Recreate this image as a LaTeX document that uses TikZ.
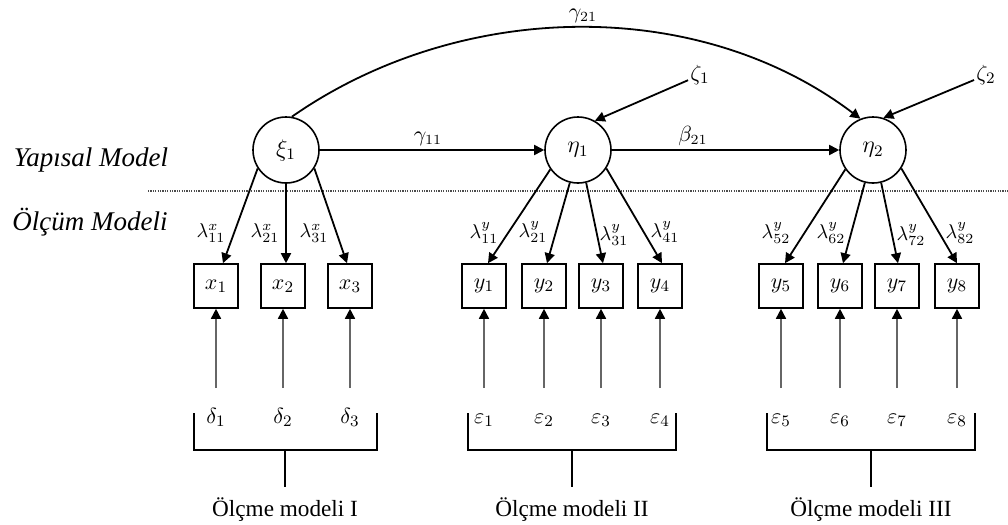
\documentclass[tikz,border=0pt]{standalone}
\usepackage{fontspec}
\setmainfont{Liberation Serif}
\usetikzlibrary{arrows.meta}
\begin{document}
\begin{tikzpicture}[x=0.5pt,y=-0.5pt,
  latent/.style={circle,draw,line width=0.8pt,minimum size=33pt,inner sep=0pt,font=\fontsize{12}{14}\selectfont},
  observed/.style={rectangle,draw,line width=0.8pt,minimum size=22pt,inner sep=0pt,font=\fontsize{11}{13}\selectfont},
  coef/.style={font=\fontsize{10.5}{12}\selectfont,inner sep=1pt},
  loading/.style={font=\fontsize{10}{12}\selectfont,inner sep=0pt},
  errlabel/.style={font=\fontsize{11}{13}\selectfont,inner sep=1pt,text height=7.6pt,text depth=2pt},
  causal/.style={line width=0.9pt,-{Triangle[length=5pt,width=5pt]}},
  errpath/.style={line width=0.8pt,draw=black!60,shorten <=9pt,-{Triangle[length=5pt,width=5pt,color=black]}},
  bracket/.style={line width=0.6pt},
  levelname/.style={font=\fontsize{13.5}{16}\selectfont\itshape},
  groupname/.style={font=\fontsize{11.6}{14}\selectfont},
  divider/.style={line width=0.6pt,draw=black!70,dash pattern=on 0.6pt off 0.6pt}]
\useasboundingbox (0,0) rectangle (1008,525);

% level captions and divider
\node[levelname] (lvlA) at (91,160) {Yapısal Model};
\node[levelname] (lvlB) at (90,222) {Ölçüm Modeli};
\draw[divider] (148,191) -- (1008,191);

% latent variables
\node[latent] (xi)   at (286,150) {$\xi_1$};
\node[latent] (eta1) at (578,150) {$\eta_1$};
\node[latent] (eta2) at (873,150) {$\eta_2$};

% disturbances
\node[coef,font=\fontsize{11}{13}\selectfont] (z1) at (700,75) {$\zeta_1$};
\node[coef,font=\fontsize{11}{13}\selectfont] (z2) at (986,75) {$\zeta_2$};

% structural paths
\draw[causal] (xi.east) -- (eta1.west);
\draw[causal] (eta1.east) -- (eta2.west);
\draw[causal] (xi.80) .. controls (459,0) and (697,-5) .. (eta2.112);
\draw[causal] (z1) -- (eta1.60);
\draw[causal] (z2) -- (eta2.72);
\node[coef] (g11) at (428,139) {$\gamma_{11}$};
\node[coef] (b21) at (693,136) {$\beta_{21}$};
\node[coef] (g21) at (583,16) {$\gamma_{21}$};

% observed indicators
\foreach \n/\xx/\lab in {x1/216/x_1,x2/283/x_2,x3/350/x_3,
  y1/484/y_1,y2/544/y_2,y3/601/y_3,y4/660/y_4,
  y5/781/y_5,y6/840/y_6,y7/897/y_7,y8/957/y_8}
  \node[observed] (\n) at (\xx,286) {$\lab$};

% loadings
\draw[causal] (xi.213) -- ([xshift=3.5pt]x1.north);
\draw[causal] (xi.south) -- ([xshift=1.5pt]x2.north);
\draw[causal] (xi.327) -- ([xshift=-1.5pt]x3.north);
\draw[causal] (eta1.215) -- ([xshift=2pt]y1.north);
\draw[causal] (eta1.256) -- ([xshift=1.5pt]y2.north);
\draw[causal] (eta1.284) -- ([xshift=1pt]y3.north);
\draw[causal] (eta1.327) -- ([xshift=1pt]y4.north);
\draw[causal] (eta2.215) -- ([xshift=2pt]y5.north);
\draw[causal] (eta2.256) -- ([xshift=1.5pt]y6.north);
\draw[causal] (eta2.284) -- ([xshift=0.5pt]y7.north);
\draw[causal] (eta2.327) -- (y8.north);

\node[loading] (lx11) at (211,233) {$\lambda^x_{11}$};
\node[loading] (lx21) at (265,233) {$\lambda^x_{21}$};
\node[loading] (lx31) at (314,233) {$\lambda^x_{31}$};
\node[loading] (ly11) at (484,233) {$\lambda^y_{11}$};
\node[loading] (ly21) at (533,232) {$\lambda^y_{21}$};
\node[loading] (ly31) at (614,235) {$\lambda^y_{31}$};
\node[loading] (ly41) at (665,232) {$\lambda^y_{41}$};
\node[loading] (ly52) at (776,233) {$\lambda^y_{52}$};
\node[loading] (ly62) at (831,233) {$\lambda^y_{62}$};
\node[loading] (ly72) at (911,235) {$\lambda^y_{72}$};
\node[loading] (ly82) at (960,233) {$\lambda^y_{82}$};

% measurement errors
\foreach \e/\xx/\lab/\tgt in {d1/216/\delta_1/x1,d2/283/\delta_2/x2,d3/350/\delta_3/x3,
  e1/484/\varepsilon_1/y1,e2/544/\varepsilon_2/y2,e3/601/\varepsilon_3/y3,e4/660/\varepsilon_4/y4,
  e5/781/\varepsilon_5/y5,e6/840/\varepsilon_6/y6,e7/897/\varepsilon_7/y7,e8/957/\varepsilon_8/y8}
{
  \node[errlabel] (\e) at (\xx,418) {$\lab$};
  \draw[errpath] (\e) -- (\tgt);
}

% grouping brackets
\draw[bracket] (194,413) -- (194,450) -- (377,450) -- (377,413);
\draw[bracket] (285,450) -- (285,487);
\draw[bracket] (468,413) -- (468,450) -- (676,450) -- (676,413);
\draw[bracket] (572,450) -- (572,487);
\draw[bracket] (767,413) -- (767,450) -- (975,450) -- (975,413);
\draw[bracket] (871,450) -- (871,487);
\node[groupname] (m1) at (285,510) {Ölçme modeli I};
\node[groupname] (m2) at (572,510) {Ölçme modeli II};
\node[groupname] (m3) at (871,510) {Ölçme modeli III};
\end{tikzpicture}
\end{document}
